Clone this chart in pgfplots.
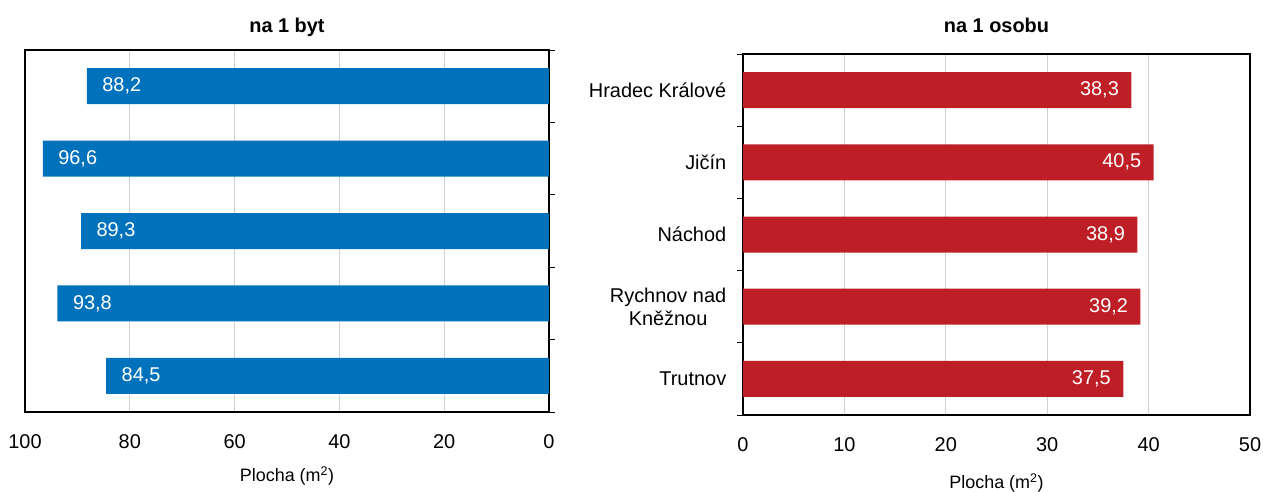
\documentclass[border=0pt]{standalone}
\usepackage{fontspec}
\setmainfont{Liberation Sans}
\usepackage{pgfplots}
\pgfplotsset{compat=1.18}
\definecolor{barblue}{RGB}{0,114,188}
\definecolor{barred}{RGB}{190,30,38}
\definecolor{gridgray}{RGB}{208,208,208}
\begin{document}
\begin{tikzpicture}[font=\fontsize{20}{23}\selectfont]
\useasboundingbox (0,0) rectangle (1263bp,492bp);
\pgfplotsset{
  common/.style={
    scale only axis, anchor=south west,
    xbar, bar width=36bp,
    ymin=-0.5, ymax=4.5, y dir=reverse,
    ytick={0,...,4},
    minor ytick={-0.5,0.5,...,4.5},
    minor tick length=6bp,
    tick align=outside,
    major y tick style={draw=none},
    xtick style={draw=none},
    minor y tick style={black, line width=1bp},
    xmajorgrids, grid style={gridgray, line width=1bp},
    axis line style={black, line width=1.3bp},
    /pgf/number format/assume math mode=true,
    tick label style={font=\fontsize{20}{23}\selectfont},
    xticklabel style={anchor=center, yshift=-25bp},
    xlabel style={font=\fontsize{18}{21}\selectfont, at={(axis description cs:0.5,0)}, anchor=center},
    title style={font=\fontsize{20}{23}\selectfont\bfseries, at={(axis description cs:0.5,1)}, anchor=center},
    nodes near coords,
    nodes near coords style={text=white, font=\fontsize{20}{23}\selectfont,
      /pgf/number format/use comma, /pgf/number format/fixed,
      /pgf/number format/fixed zerofill, /pgf/number format/precision=1,
      /pgf/number format/assume math mode=true},
    xlabel={Plocha (m\textsuperscript{2})},
  }
}
\begin{axis}[common,
  at={(25bp,80bp)}, width=524bp, height=362bp,
  xmin=0, xmax=100, x dir=reverse, xtick={0,20,...,100},
  yticklabels={}, ytick pos=right,
  title={na 1 byt},
  title style={yshift=17bp},
  xlabel style={yshift=-64bp},
  every node near coord/.append style={anchor=west, xshift=12bp},
]
\addplot[fill=barblue, draw=none] coordinates {(88.2,0) (96.6,1) (89.3,2) (93.8,3) (84.5,4)};
\end{axis}
\begin{axis}[common,
  at={(743bp,77bp)}, width=507bp, height=361bp,
  xmin=0, xmax=50, xtick={0,10,...,50},
  ytick pos=left,
  yticklabels={Hradec Králové, Jičín, Náchod, {Rychnov nad\\Kněžnou}, Trutnov},
  yticklabel style={align=center, xshift=-9bp},
  title={na 1 osobu},
  title style={yshift=23bp},
  xlabel style={yshift=-68bp},
  every node near coord/.append style={anchor=east, xshift=-9bp},
]
\addplot[fill=barred, draw=none] coordinates {(38.3,0) (40.5,1) (38.9,2) (39.2,3) (37.5,4)};
\end{axis}
\end{tikzpicture}
\end{document}
